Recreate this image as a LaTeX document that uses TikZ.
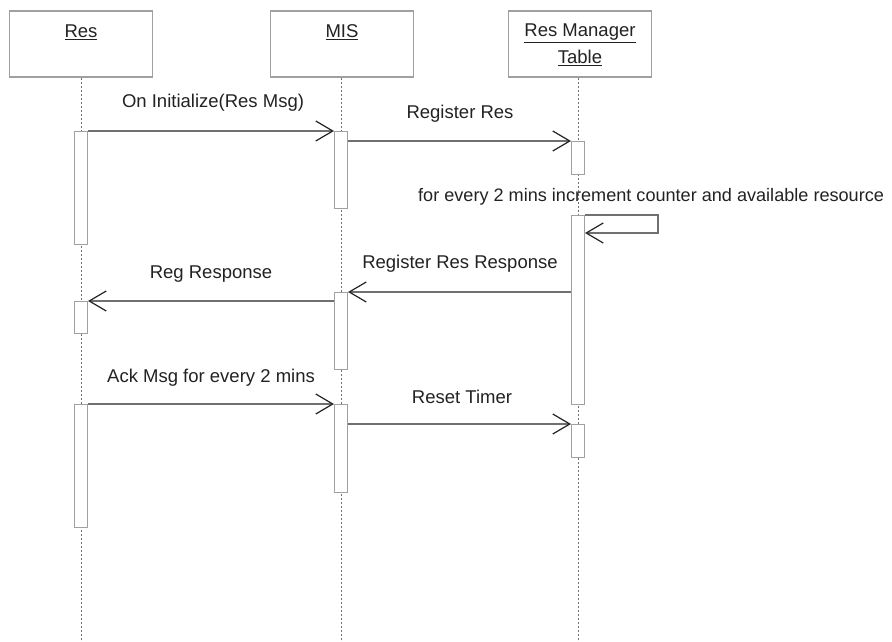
\documentclass[tikz,border=0pt]{standalone}
\usepackage{fontspec}
\setmainfont{Liberation Sans}
\usetikzlibrary{arrows.meta}
\definecolor{boxgray}{HTML}{A0A0A0}
\definecolor{linegray}{HTML}{707070}
\definecolor{txtgray}{HTML}{222222}
\tikzset{
  head/.style={draw=boxgray, line width=1.1pt, fill=white, minimum width=143pt, minimum height=66pt, inner sep=0pt},
  headtxt/.style={text=txtgray, font=\fontsize{18.5}{27}\selectfont, align=center, inner sep=0pt},
  lifeline/.style={draw=linegray, line width=0.6pt, dash pattern=on 2pt off 2pt},
  act/.style={draw=boxgray, line width=1.1pt, fill=white, minimum width=13pt, inner sep=0pt, anchor=north},
  msg/.style={draw=linegray, line width=1.1pt, -{Straight Barb[length=17pt, width=20pt, line width=1.2pt, color=txtgray]}},
  msgtxt/.style={text=txtgray, font=\fontsize{18.5}{22}\selectfont, inner sep=0pt}
}
\begin{document}
\begin{tikzpicture}[x=1pt, y=1pt]
\useasboundingbox (0,0) rectangle (892,-642);
% lifelines
\coordinate (resEnd) at (81,-642);
\coordinate (misEnd) at (341,-642);
\coordinate (rmtEnd) at (578,-642);
\node[head] (res) at (81,-44) {};
\node[head] (mis) at (342,-44) {};
\node[head] (rmt) at (580,-44) {};
\draw[lifeline] (res.south -| resEnd) -- (resEnd);
\draw[lifeline] (mis.south -| misEnd) -- (misEnd);
\draw[lifeline] (rmt.south -| rmtEnd) -- (rmtEnd);
\node[headtxt] (resT) at (81,-32) {\underline{Res}};
\node[headtxt] (misT) at (342,-32) {\underline{MIS}};
\node[headtxt] (rmtT) at (580,-45) {\underline{Res Manager}\\\underline{Table}};
% activations
\node[act, minimum height=113pt] (resA) at (81,-131) {};
\node[act, minimum height=32pt] (resB) at (81,-301) {};
\node[act, minimum height=123pt] (resC) at (81,-404) {};
\node[act, minimum height=77pt] (misA) at (341,-131) {};
\node[act, minimum height=77pt] (misB) at (341,-292) {};
\node[act, minimum height=88pt] (misC) at (341,-404) {};
\node[act, minimum height=33pt] (rmtA) at (578,-141) {};
\node[act, minimum height=189pt] (rmtB) at (578,-215) {};
\node[act, minimum height=33pt] (rmtC) at (578,-424) {};
% messages
\draw[msg] (resA.north east) -- (misA.north west);
\node[msgtxt] (m1) at (213,-103) {On Initialize(Res Msg)};
\draw[msg] (misA.east |- rmtA.north) -- (rmtA.north west);
\node[msgtxt] (m2) at (460,-114) {Register Res};
\coordinate (loopA) at (658,-215);
\coordinate (loopB) at (658,-233);
\draw[msg] (rmtB.north east) -- (loopA) -- (loopB) -- (rmtB.east |- loopB);
\node[msgtxt, anchor=west, font=\fontsize{18.1}{22}\selectfont] (m3) at (418,-197) {for every 2 mins increment counter and available resource};
\draw[msg] (rmtB.west |- misB.north) -- (misB.north east);
\node[msgtxt] (m4) at (460,-264) {Register Res Response};
\draw[msg] (misB.west |- resB.north) -- (resB.north east);
\node[msgtxt] (m5) at (211,-274) {Reg Response};
\draw[msg] (resC.north east) -- (misC.north west);
\node[msgtxt] (m6) at (211,-378) {Ack Msg for every 2 mins};
\draw[msg] (misC.east |- rmtC.north) -- (rmtC.north west);
\node[msgtxt] (m7) at (462,-397) {Reset Timer};
\end{tikzpicture}
\end{document}
